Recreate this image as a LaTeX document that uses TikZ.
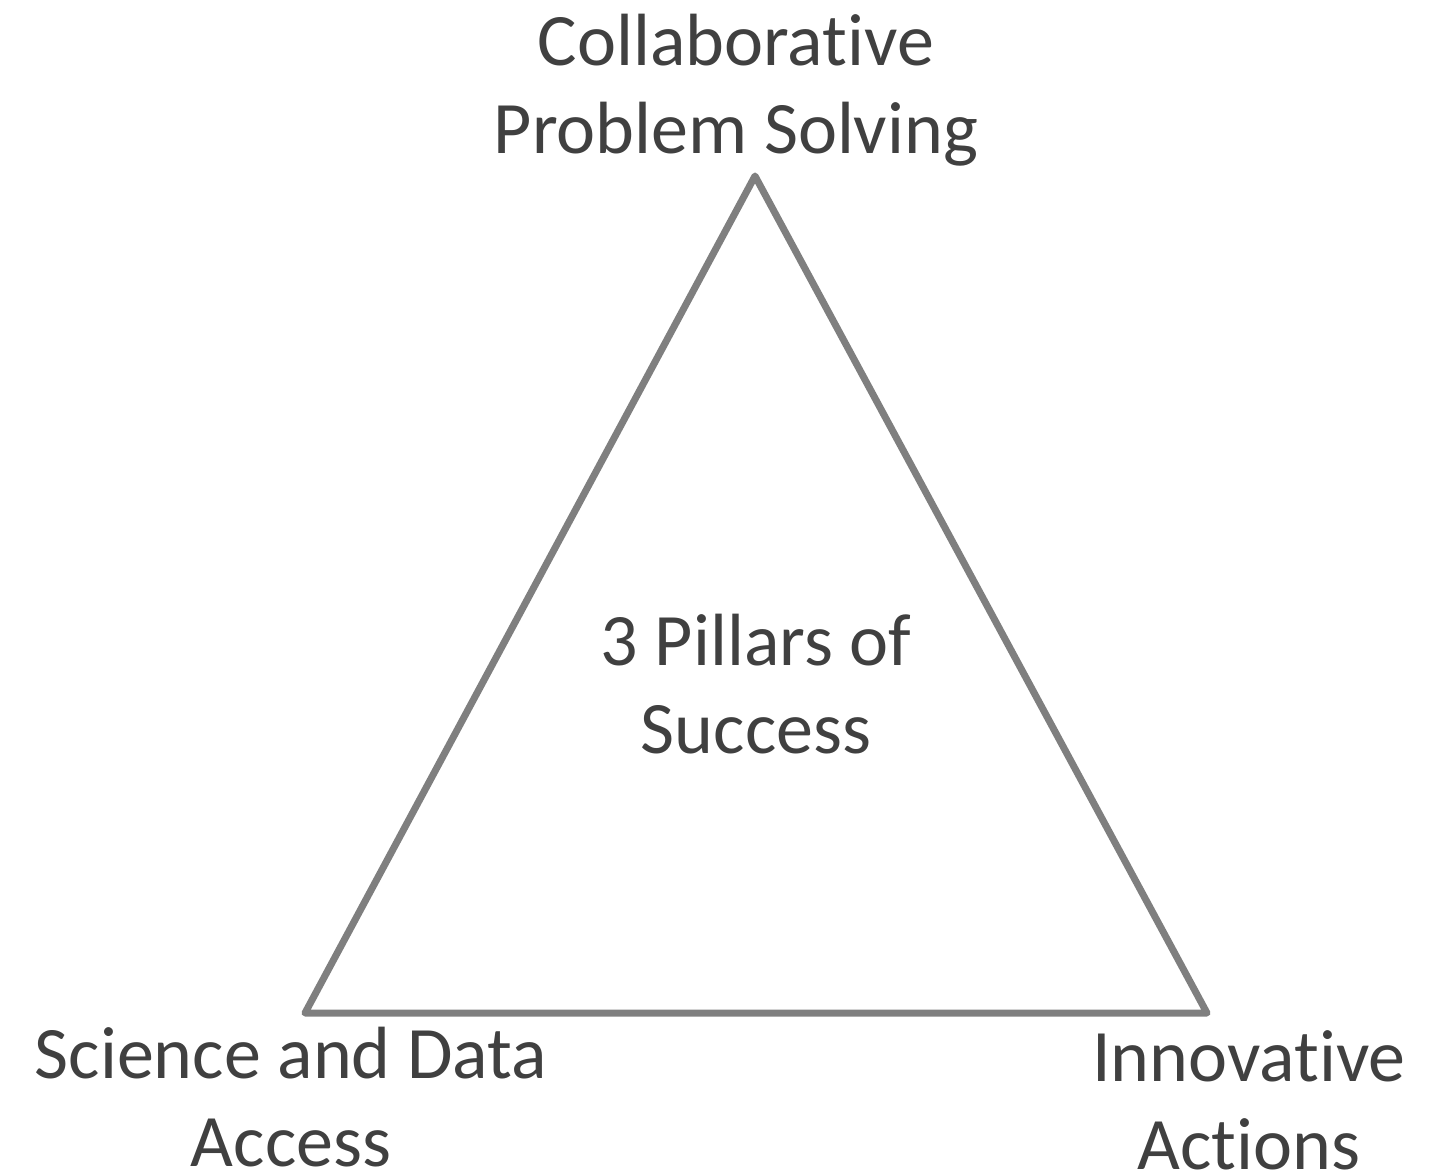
\documentclass[tikz,border=0pt]{standalone}
\usepackage{fontspec}
\setmainfont{Carlito}[Ligatures=NoCommon]
\usepackage{tikz}

\definecolor{textgray}{HTML}{404040}
\definecolor{edgegray}{HTML}{7F7F7F}

\tikzset{pillar/.style={align=center,inner sep=0pt,anchor=base,color=textgray,
  font=\fontsize{37}{44}\selectfont}}

\begin{document}
\begin{tikzpicture}[x=0.5pt,y=-0.5pt]
\useasboundingbox (0,0) rectangle (1442,1172);

% corners of the triangle
\coordinate (top) at (755,176);
\coordinate (left) at (305,1013);
\coordinate (right) at (1207,1013);
\draw[line width=3.5pt,color=edgegray,line join=round] (top) -- (left) -- (right) -- cycle;

% labels, placed at the baseline of their last line
\node[pillar] (cps) at (736,154) {Collaborative\\Problem Solving};
\node[pillar] (core) at (756,753) {3 Pillars of\\Success};
\node[pillar] (sda) at (291,1166) {Science and Data\\Access};
\node[pillar] (ia) at (1249,1169) {Innovative\\Actions};
\end{tikzpicture}
\end{document}
